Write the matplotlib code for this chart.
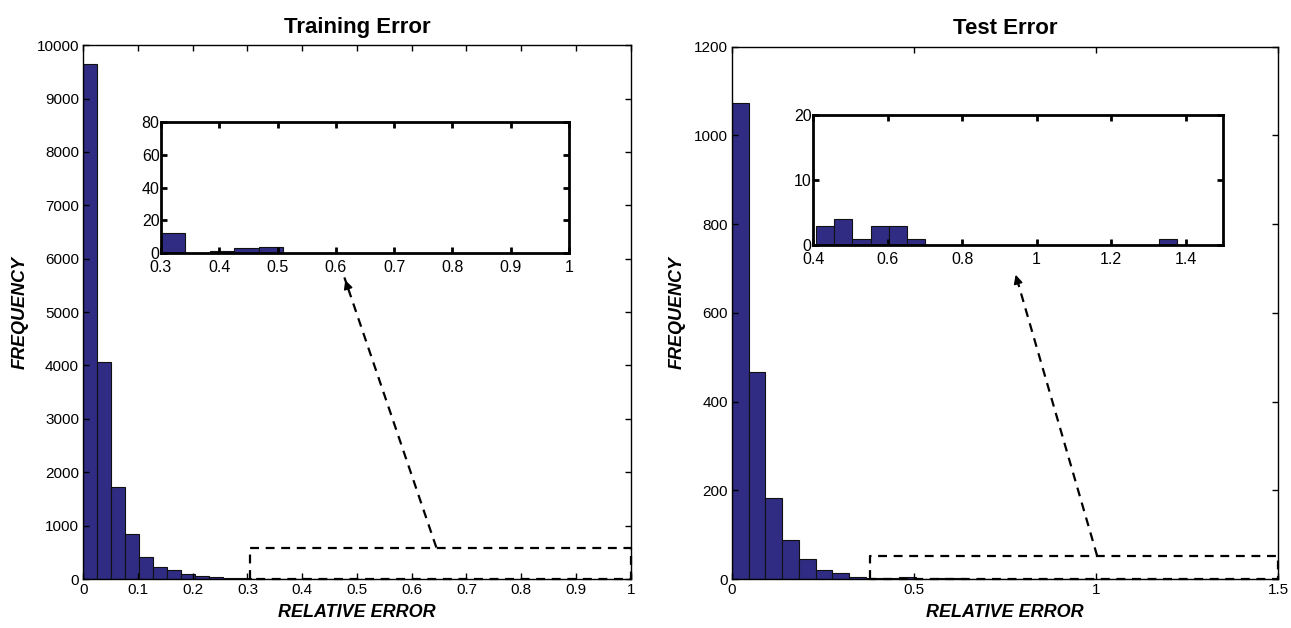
import numpy as np
import matplotlib
matplotlib.use("Agg")
import matplotlib.pyplot as plt
from matplotlib.ticker import FuncFormatter

plt.rcParams['font.family'] = ['Liberation Sans', 'DejaVu Sans']

###############################################################################
#                                    DATA                                     #
###############################################################################
# Training error: 20 bins over [0, 0.51]
train_range = (0.0, 0.51)
train_counts = [9640, 4070, 1720, 845, 412, 219, 169, 87, 56, 37,
                25, 12, 8, 4, 0, 1, 1, 2, 2, 2]
# zoom of the tail: 5 bins over [0.3, 0.51]
train_zoom_range = (0.30, 0.51)
train_zoom_counts = [12, 0, 1, 3, 4]

# Test error: 30 bins over [0, 1.38]
test_range = (0.0, 1.38)
test_counts = [1073, 467, 183, 89, 46, 20, 14, 4, 2, 3,
               4, 1, 3, 3, 1, 0, 0, 0, 0, 0,
               0, 0, 0, 0, 0, 0, 0, 0, 0, 1]
# zoom of the tail: 20 bins over [0.409, 1.377]
test_zoom_range = (0.409, 1.377)
test_zoom_counts = [3, 4, 1, 3, 3, 1, 0, 0, 0, 0,
                    0, 0, 0, 0, 0, 0, 0, 0, 0, 1]

# zoom boxes (x0, x1, y_top) and arrows (corner -> tip)
train_box = (0.305, 1.0, 590)
train_arrow = ((0.645, 590), (0.477, 5650))
test_box = (0.38, 1.5, 52)
test_arrow = ((1.003, 52), (0.777, 692))

BAR = "#302C83"


###############################################################################
#                                   HELPERS                                   #
###############################################################################
def draw_hist(ax, rng, counts):
    edges = np.linspace(rng[0], rng[1], len(counts) + 1)
    ax.bar(edges[:-1], counts, width=np.diff(edges), align='edge',
           color=BAR, edgecolor='#111111', linewidth=0.8)


def style_axes(ax, lw=1.0, size=11):
    for s in ax.spines.values():
        s.set_linewidth(lw)
    ax.tick_params(direction='in', top=True, right=True, length=4,
                   width=lw, labelsize=size, pad=3)
    ax.xaxis.set_major_formatter(FuncFormatter(lambda v, p: "%g" % round(v, 4)))


def draw_zoom_marks(ax, box, arrow):
    x0, x1, yt = box
    ax.plot([x0, x0, x1, x1, x0], [0, yt, yt, 0, 0], color='k', lw=1.6,
            ls=(0, (4, 3)), clip_on=False, zorder=5)
    (cx, cy), (tx, ty) = arrow
    ax.plot([cx, tx], [cy, ty], color='k', lw=1.6, ls=(0, (4, 3)), zorder=5)
    dx, dy = tx - cx, ty - cy
    ax.annotate('', xy=(tx, ty), xytext=(tx - 0.04 * dx, ty - 0.04 * dy),
                arrowprops=dict(arrowstyle='-|>', color='k', lw=1.2,
                                mutation_scale=13), zorder=6)


def label_axes(ax, title):
    ax.set_title(title, fontsize=16, fontweight='bold', pad=9)
    ax.set_xlabel("RELATIVE ERROR", fontsize=13, fontweight='bold',
                  style='italic', labelpad=5)
    ax.set_ylabel("FREQUENCY", fontsize=13, fontweight='bold',
                  style='italic', labelpad=6)


###############################################################################
#                                    PLOT                                     #
###############################################################################
fig = plt.figure(figsize=(12.91, 6.28), dpi=100)

# ---- training
ax1 = fig.add_axes([0.0645, 0.078, 0.424, 0.850])
draw_hist(ax1, train_range, train_counts)
ax1.set_xlim(0, 1)
ax1.set_ylim(0, 10000)
ax1.set_xticks(np.arange(0, 1.01, 0.1))
ax1.set_yticks(np.arange(0, 10001, 1000))
style_axes(ax1)
label_axes(ax1, "Training Error")
draw_zoom_marks(ax1, train_box, train_arrow)

ax1i = fig.add_axes([0.1247, 0.597, 0.316, 0.2086])
draw_hist(ax1i, train_zoom_range, train_zoom_counts)
ax1i.set_xlim(0.3, 1)
ax1i.set_ylim(0, 80)
ax1i.set_xticks(np.arange(0.3, 1.01, 0.1))
ax1i.set_yticks([0, 20, 40, 60, 80])
style_axes(ax1i, lw=2.0, size=11.5)
ax1i.tick_params(axis='y', pad=1)
ax1i.tick_params(axis='x', pad=5)

# ---- test
ax2 = fig.add_axes([0.567, 0.078, 0.423, 0.8476])
draw_hist(ax2, test_range, test_counts)
ax2.set_xlim(0, 1.5)
ax2.set_ylim(0, 1200)
ax2.set_xticks([0, 0.5, 1, 1.5])
ax2.set_yticks(np.arange(0, 1201, 200))
style_axes(ax2)
label_axes(ax2, "Test Error")
draw_zoom_marks(ax2, test_box, test_arrow)

ax2i = fig.add_axes([0.6298, 0.6094, 0.3174, 0.2075])
draw_hist(ax2i, test_zoom_range, test_zoom_counts)
ax2i.set_xlim(0.4, 1.5)
ax2i.set_ylim(0, 20)
ax2i.set_xticks([0.4, 0.6, 0.8, 1, 1.2, 1.4])
ax2i.set_yticks([0, 10, 20])
style_axes(ax2i, lw=2.0, size=11.5)
ax2i.tick_params(axis='y', pad=1)
ax2i.tick_params(axis='x', pad=5)

fig.savefig("out.png", dpi=100)
